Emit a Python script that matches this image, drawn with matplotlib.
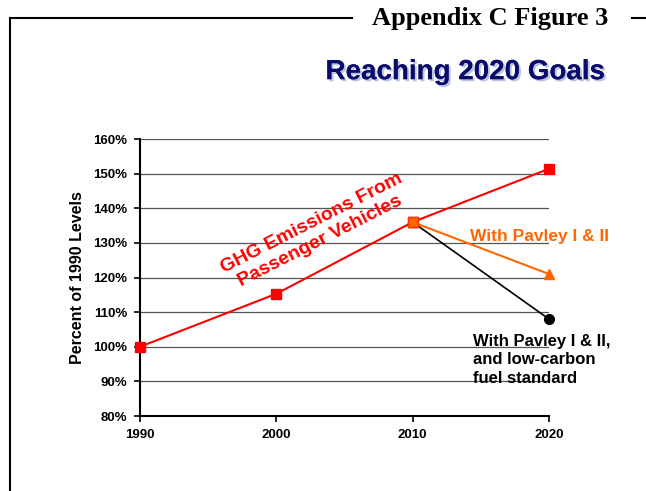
import matplotlib.pyplot as plt
import matplotlib.patheffects as pe
from matplotlib.lines import Line2D

years = [1990, 2000, 2010, 2020]
ghg = [100, 115.3, 136, 151.4]          # % of 1990 levels
pavley_years = [2010, 2020]
pavley = [136, 121]
lcfs_years = [2010, 2020]
lcfs = [136, 108]
y_ticks = [80, 90, 100, 110, 120, 130, 140, 150, 160]

plt.rcParams['font.family'] = ['Liberation Sans', 'DejaVu Sans']

fig = plt.figure(figsize=(6.46, 4.91), dpi=100)
ax = fig.add_axes([0.2167, 0.1527, 0.6331, 0.5642])

# horizontal gridlines, only up to 2020
for v in y_ticks[1:]:
    ax.axhline(v, color='#555555', lw=0.9, zorder=1)

ax.plot(years, ghg, color='#ff0000', lw=1.5, marker='s', markersize=7,
        markerfacecolor='#ff0000', markeredgecolor='#ff0000', zorder=4, clip_on=False)
ax.plot(pavley_years, pavley, color='#ff6600', lw=1.5, marker='^', markersize=7,
        markerfacecolor='#ff6600', markeredgecolor='#ff6600', zorder=3, clip_on=False)
ax.plot(lcfs_years, lcfs, color='black', lw=1.2, zorder=2)
ax.plot(lcfs_years[-1], lcfs[-1], marker='o', markersize=7, color='black', zorder=5,
        clip_on=False)
ax.plot(2010, 136, marker='s', markersize=7, color='#ff6600', zorder=6,
        markeredgecolor='#ff3300')

ax.set_xlim(1990, 2020)
ax.set_ylim(80, 160)
ax.set_xticks(years)
ax.set_xticklabels([str(y) for y in years], fontsize=9.5, fontweight='bold')
ax.set_yticks(y_ticks)
ax.set_yticklabels(['%d%%' % v for v in y_ticks], fontsize=9.5, fontweight='bold')
ax.tick_params(axis='both', direction='out', length=4, width=1.2, pad=5)
for s in ['top', 'right']:
    ax.spines[s].set_visible(False)
for s in ['left', 'bottom']:
    ax.spines[s].set_linewidth(1.5)
ax.set_ylabel('Percent of 1990 Levels', fontsize=11.5, fontweight='bold', labelpad=6)

ax.text(2002.9, 133.0, 'GHG Emissions From\nPassenger Vehicles', color='#ff0000',
        fontsize=14, fontweight='bold', rotation=27, ha='center', va='center',
        linespacing=1.25, zorder=7, rotation_mode='anchor')
ax.text(2014.2, 131.8, 'With Pavley I & II', color='#ff6600', fontsize=12.5,
        fontweight='bold', ha='left', va='center')
ax.text(2014.4, 103.8, 'With Pavley I & II,\nand low-carbon\nfuel standard',
        color='black', fontsize=12, fontweight='bold', ha='left', va='top',
        linespacing=1.3)

# page frame and headings
fig.add_artist(Line2D([0.0155, 0.0155], [0.0, 0.963], color='black', lw=1.5,
                      transform=fig.transFigure))
fig.add_artist(Line2D([0.0155, 0.545], [0.963, 0.963], color='black', lw=1.5,
                      transform=fig.transFigure))
fig.add_artist(Line2D([0.978, 1.0], [0.963, 0.963], color='black', lw=1.5,
                      transform=fig.transFigure))
fig.text(0.7585, 0.962, 'Appendix C Figure 3', family='Liberation Serif',
         fontsize=19, fontweight='bold', ha='center', va='center')
title = fig.text(0.72, 0.853, 'Reaching 2020 Goals', fontsize=20,
                 fontweight='bold', color='#0b0b6b', ha='center', va='center')
title.set_path_effects([pe.withSimplePatchShadow(offset=(1.5, -1.5),
                        shadow_rgbFace='#a8b8d8', alpha=0.8), pe.Normal()])

fig.savefig('out.png', dpi=100)
